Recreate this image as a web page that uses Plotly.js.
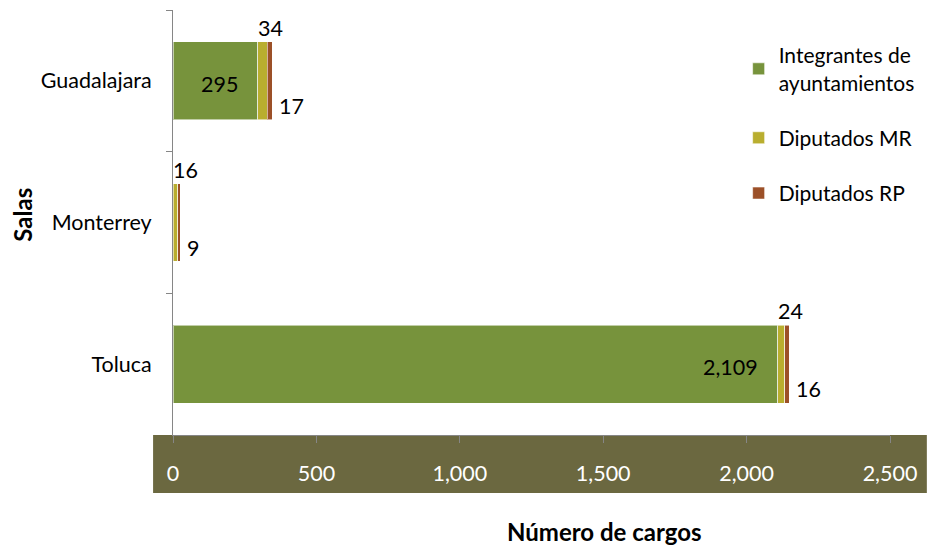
<!DOCTYPE html>
<html>
<head>
<meta charset="utf-8">
<script src="https://cdn.plot.ly/plotly-3.0.1.min.js"></script>
<style>html,body{margin:0;padding:0;background:#fff;}#chart{width:930px;height:545px;}</style>
</head>
<body>
<div id="chart"></div>
<script>
// ---- data ----
const salas = ["Guadalajara", "Monterrey", "Toluca"];
const integrantes = [295, 0, 2109];
const diputadosMR = [34, 16, 24];
const diputadosRP = [17, 9, 16];
const seriesNames = ["Integrantes de<br>ayuntamientos", "Diputados MR", "Diputados RP"];
const xTickVals = [0, 500, 1000, 1500, 2000, 2500];
const xTickText = ["0", "500", "1,000", "1,500", "2,000", "2,500"];

const FONT = "Lato, 'Open Sans', sans-serif";
const FS = 21.5;
const colors = ["#77933C", "#B9AE2F", "#9C5028"];
const seriesVals = [integrantes, diputadosMR, diputadosRP];

const traces = seriesVals.map((vals, i) => ({
  type: "bar",
  orientation: "h",
  name: seriesNames[i],
  legendgroup: "g" + i,
  y: salas,
  x: vals,
  marker: { color: colors[i], line: { color: "rgba(255,255,255,0.55)", width: 1 } },
  hoverinfo: "x+y+name"
}));

const fmt = v => v.toLocaleString("en-US");
const annotations = [];
salas.forEach((s, k) => {
  const endA = integrantes[k];
  const endB = endA + diputadosMR[k];
  const endC = endB + diputadosRP[k];
  if (integrantes[k] > 0) {
    annotations.push({ x: endA, y: s, xref: "x", yref: "y", text: fmt(integrantes[k]),
      showarrow: false, xanchor: "right", yanchor: "middle", xshift: -18, yshift: -3,
      font: { family: FONT, size: FS, color: "#000" } });
  }
  annotations.push({ x: endA, y: s, xref: "x", yref: "y", text: fmt(diputadosMR[k]),
    showarrow: false, xanchor: "left", yanchor: "middle", xshift: -2, yshift: 53,
    font: { family: FONT, size: FS, color: "#000" } });
  annotations.push({ x: endC, y: s, xref: "x", yref: "y", text: fmt(diputadosRP[k]),
    showarrow: false, xanchor: "left", yanchor: "middle", xshift: 5, yshift: -25,
    font: { family: FONT, size: FS, color: "#000" } });
});

// axis titles
annotations.push({ xref: "paper", yref: "paper", x: (606 - 173) / 720, y: -(531 - 435) / 425,
  text: "<b>Número de cargos</b>", showarrow: false, xanchor: "center", yanchor: "middle",
  font: { family: FONT, size: 24, color: "#000" } });
annotations.push({ xref: "paper", yref: "paper", x: -(173 - 21) / 720, y: 1 - (215 - 10) / 425,
  text: "<b>Salas</b>", showarrow: false, textangle: -90, xanchor: "center", yanchor: "middle",
  font: { family: FONT, size: 24, color: "#000" } });

const layout = {
  width: 930, height: 545,
  margin: { l: 173, r: 37, t: 10, b: 110, pad: 0 },
  paper_bgcolor: "#ffffff", plot_bgcolor: "#ffffff",
  barmode: "stack", bargap: 0.45,
  font: { family: FONT, size: FS, color: "#000" },
  xaxis: {
    range: [0, 2500], tickvals: xTickVals, ticktext: xTickText,
    showgrid: false, zeroline: false, showline: true, linecolor: "#868686", linewidth: 1,
    ticks: "outside", ticklen: 7, tickcolor: "#868686", tickwidth: 1,
    ticklabelstandoff: 12,
    tickfont: { family: FONT, size: FS, color: "#ffffff" }, fixedrange: true
  },
  yaxis: {
    autorange: "reversed", type: "category",
    showgrid: false, zeroline: false, showline: true, linecolor: "#868686", linewidth: 1,
    ticks: "outside", ticklen: 6, tickcolor: "#868686", tickwidth: 1, tickson: "boundaries",
    ticklabelstandoff: 16,
    tickfont: { family: FONT, size: FS, color: "#000" }, fixedrange: true
  },
  legend: {
    x: (741 - 173) / 720, xanchor: "left", y: 1 - (35 - 10) / 425, yanchor: "top",
    traceorder: "grouped", tracegroupgap: 25, bgcolor: "rgba(0,0,0,0)", borderwidth: 0,
    font: { family: FONT, size: 21, color: "#000" }
  },
  shapes: [{
    type: "rect", xref: "paper", yref: "paper", layer: "below",
    x0: (153 - 173) / 720, x1: (930 - 173) / 720, y0: -(493 - 435) / 425, y1: 0,
    fillcolor: "#6B6840", line: { width: 0 }
  }],
  annotations: annotations,
  showlegend: true
};

Plotly.newPlot("chart", traces, layout, { displayModeBar: false, staticPlot: false });
</script>
</body>
</html>
